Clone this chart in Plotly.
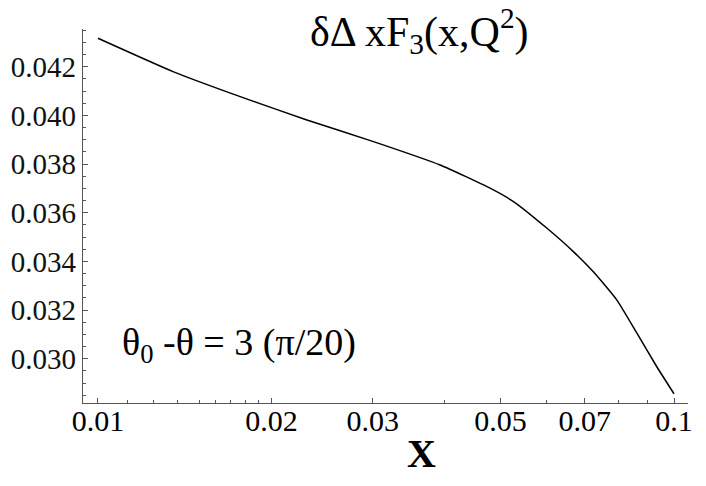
import plotly.graph_objects as go

# values
x_vals = [0.01, 0.01353, 0.01766, 0.02305, 0.03008, 0.03926, 0.04794,
          0.05263, 0.06013, 0.06688, 0.07244, 0.07954, 0.08617, 0.0933, 0.1]
f3_vals = [0.04317, 0.04179, 0.04077, 0.03981, 0.03892, 0.03796, 0.03701,
           0.03646, 0.03537, 0.03440, 0.03357, 0.03242, 0.03106, 0.02968, 0.02856]

x_major = [0.01, 0.02, 0.03, 0.05, 0.07, 0.1]
x_major_text = ["0.01", "0.02", "0.03", "0.05", "0.07", "0.1"]
x_minor = [0.01125, 0.0125, 0.01375, 0.015, 0.016, 0.017, 0.018, 0.019,
           0.04, 0.06, 0.08, 0.09]
y_major = [0.030, 0.032, 0.034, 0.036, 0.038, 0.040, 0.042]
y_major_text = ["0.030", "0.032", "0.034", "0.036", "0.038", "0.040", "0.042"]

serif = "Times New Roman"
axis_col = "#555555"

fig = go.Figure()
fig.add_trace(go.Scatter(
    x=x_vals, y=f3_vals, mode="lines",
    line=dict(color="black", width=1.5, shape="spline", smoothing=0.5),
    showlegend=False
))

# page body has an 8px margin, so the figure is 8px smaller than the window
fig.update_layout(
    width=698, height=478,
    margin=dict(l=75, r=18, t=21, b=83),
    paper_bgcolor="white", plot_bgcolor="white",
    font=dict(family="Liberation Serif", size=30, color="black"),
    xaxis=dict(
        type="log", range=[-2.026, -0.9757], automargin=False,
        tickmode="array", tickvals=x_major, ticktext=x_major_text,
        ticks="inside", ticklen=5, tickwidth=1, tickcolor=axis_col,
        minor=dict(tickmode="array", tickvals=x_minor, ticks="inside", ticklen=3,
                   tickcolor=axis_col, showgrid=False),
        showline=True, linecolor=axis_col, linewidth=1.2,
        showgrid=False, zeroline=False,
        tickfont=dict(family=serif, size=30, color="black"),
        ticklabelstandoff=-9
    ),
    yaxis=dict(
        range=[0.02818, 0.04355], automargin=False,
        tickmode="array", tickvals=y_major, ticktext=y_major_text,
        ticks="inside", ticklen=5, tickwidth=1, tickcolor=axis_col,
        minor=dict(dtick=0.0005, tick0=0.03, ticks="inside", ticklen=3,
                   tickcolor=axis_col, showgrid=False),
        showline=True, linecolor=axis_col, linewidth=1.2,
        showgrid=False, zeroline=False,
        tickfont=dict(family=serif, size=29, color="#111111")
    ),
)

fig.add_annotation(
    text="δΔ xF<sub>3</sub>(x,Q<sup>2</sup>)", xref="paper", yref="paper",
    x=0.557, y=0.995, xanchor="center", yanchor="middle", showarrow=False,
    font=dict(family=serif, size=42, color="black")
)
fig.add_annotation(
    text="θ<sub>0</sub> -θ = 3 (π/20)", xref="paper", yref="paper",
    x=0.061, y=0.155, xanchor="left", yanchor="middle", showarrow=False,
    font=dict(family=serif, size=38, color="black")
)
fig.add_annotation(
    text="<b>X</b>", xref="paper", yref="paper",
    x=0.56, y=-0.134, xanchor="center", yanchor="middle", showarrow=False,
    font=dict(family=serif, size=40, color="black")
)

fig.write_html("out.html")
